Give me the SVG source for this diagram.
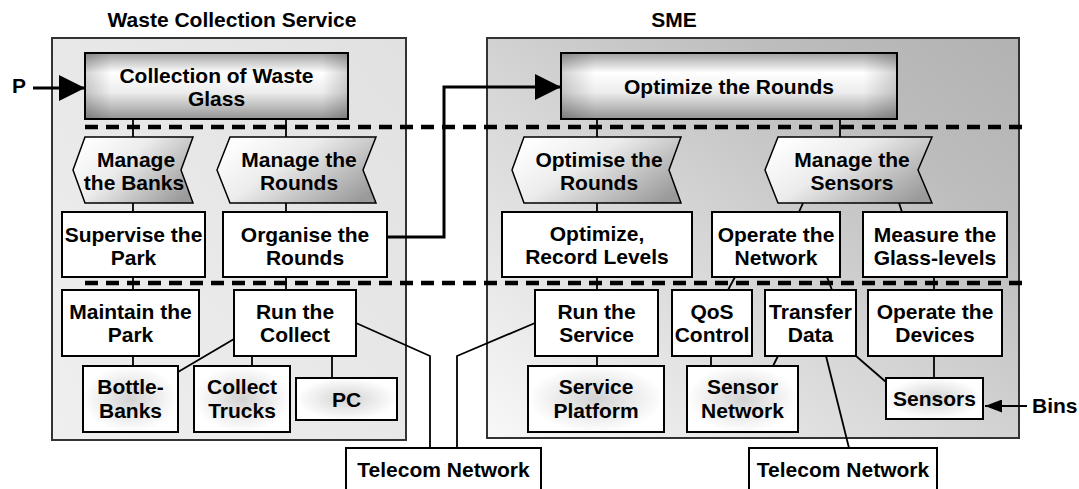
<svg xmlns="http://www.w3.org/2000/svg" width="1079" height="489" viewBox="0 0 1079 489">
<style>
  .t{font-family:"Liberation Sans",Arial,Helvetica,sans-serif;font-weight:bold;font-size:21px;text-anchor:middle;fill:#000}
  .tl{font-family:"Liberation Sans",Arial,Helvetica,sans-serif;font-weight:bold;font-size:21px;fill:#000}
  .box{fill:#fff;stroke:#000;stroke-width:2}
  .haze{fill:url(#gHaze);stroke:#000;stroke-width:2}
  .top{fill:url(#gTopV);stroke:#000;stroke-width:2}
  .topov{fill:url(#gTopH);stroke:none}
  .chev{fill:url(#gChev);stroke:#000;stroke-width:1.5;stroke-linejoin:miter}
  .panel{stroke:#333;stroke-width:2}
  .c{stroke:#000;stroke-width:1.8;fill:none}
  .cb{stroke:#000;stroke-width:3;fill:none}
  .dash{stroke:#000;stroke-width:4.5;stroke-dasharray:13 8;fill:none}
</style>
<defs>
  <linearGradient id="gLeftPanel" x1="0" y1="1" x2="1" y2="0">
    <stop offset="0" stop-color="#efefef"/>
    <stop offset="1" stop-color="#e1e1e1"/>
  </linearGradient>
  <linearGradient id="gRightPanel" x1="0" y1="1" x2="1" y2="0">
    <stop offset="0" stop-color="#f8f8f8"/>
    <stop offset="0.45" stop-color="#d6d6d6"/>
    <stop offset="0.75" stop-color="#bdbdbd"/>
    <stop offset="1" stop-color="#b2b2b2"/>
  </linearGradient>
  <linearGradient id="gTopV" x1="0" y1="0" x2="0" y2="1">
    <stop offset="0" stop-color="#a0a0a0"/>
    <stop offset="0.3" stop-color="#ffffff"/>
    <stop offset="0.6" stop-color="#ececec"/>
    <stop offset="1" stop-color="#949494"/>
  </linearGradient>
  <linearGradient id="gTopH" x1="0" y1="0" x2="1" y2="0">
    <stop offset="0" stop-color="#000" stop-opacity="0.18"/>
    <stop offset="0.1" stop-color="#000" stop-opacity="0"/>
    <stop offset="0.9" stop-color="#000" stop-opacity="0"/>
    <stop offset="1" stop-color="#000" stop-opacity="0.18"/>
  </linearGradient>
  <linearGradient id="gChev" x1="0" y1="0.2" x2="1" y2="0.8">
    <stop offset="0" stop-color="#ffffff"/>
    <stop offset="0.4" stop-color="#ececec"/>
    <stop offset="1" stop-color="#9a9a9a"/>
  </linearGradient>
  <radialGradient id="gHaze" cx="0.5" cy="0.5" r="0.5">
    <stop offset="0" stop-color="#d2d2d2"/>
    <stop offset="0.55" stop-color="#ebebeb"/>
    <stop offset="1" stop-color="#ffffff"/>
  </radialGradient>
  <marker id="mBig" viewBox="0 0 26 26" refX="26" refY="13" markerWidth="26" markerHeight="26" markerUnits="userSpaceOnUse" orient="auto">
    <path d="M0,0 L26,13 L0,26 z" fill="#000"/>
  </marker>
  <marker id="mSmall" viewBox="0 0 17 13" refX="17" refY="6.5" markerWidth="17" markerHeight="13" markerUnits="userSpaceOnUse" orient="auto">
    <path d="M0,0 L17,6.5 L0,13 z" fill="#000"/>
  </marker>
</defs>

<g id="panel-waste">
  <rect class="panel" x="52" y="38" width="354" height="402" fill="url(#gLeftPanel)"/>
  <text class="t" x="232" y="27">Waste Collection Service</text>
</g>
<g id="panel-sme">
  <rect class="panel" x="487" y="38" width="532" height="400" fill="url(#gRightPanel)"/>
  <text class="t" x="674" y="27">SME</text>
</g>

<g id="separators">
  <line class="dash" x1="85" y1="127" x2="1024" y2="127"/>
  <line class="dash" x1="85" y1="283" x2="1024" y2="283"/>
</g>

<g id="connectors">
  <line class="c" x1="133" y1="119" x2="133" y2="137"/>
  <line class="c" x1="286" y1="119" x2="286" y2="137"/>
  <line class="c" x1="133" y1="203" x2="133" y2="212"/>
  <line class="c" x1="286" y1="203" x2="286" y2="212"/>
  <line class="c" x1="133" y1="277" x2="133" y2="290"/>
  <line class="c" x1="286" y1="277" x2="286" y2="290"/>
  <line class="c" x1="133" y1="356" x2="133" y2="366"/>
  <line class="c" x1="252" y1="356" x2="252" y2="366"/>
  <line class="c" x1="332" y1="356" x2="332" y2="378"/>
  <line class="c" x1="234" y1="339" x2="178" y2="372"/>
  <polyline class="c" points="356,323 430,356 430,448"/>
  <line class="c" x1="597" y1="120" x2="597" y2="137"/>
  <line class="c" x1="840" y1="120" x2="840" y2="137"/>
  <line class="c" x1="597" y1="203" x2="597" y2="212"/>
  <line class="c" x1="803" y1="203" x2="799" y2="212"/>
  <line class="c" x1="899" y1="203" x2="902" y2="212"/>
  <line class="c" x1="597" y1="277" x2="597" y2="290"/>
  <line class="c" x1="735" y1="277" x2="728" y2="290"/>
  <line class="c" x1="827" y1="277" x2="832" y2="290"/>
  <line class="c" x1="934" y1="277" x2="934" y2="290"/>
  <line class="c" x1="597" y1="356" x2="597" y2="366"/>
  <line class="c" x1="711" y1="356" x2="711" y2="366"/>
  <line class="c" x1="778" y1="356" x2="773" y2="366"/>
  <line class="c" x1="826" y1="356" x2="849" y2="448"/>
  <line class="c" x1="856" y1="356" x2="886" y2="382"/>
  <line class="c" x1="934" y1="356" x2="934" y2="378"/>
  <polyline class="c" points="535,323 457,356 457,448"/>
  <polyline class="cb" points="387,237 444,237 444,87 561,87" marker-end="url(#mBig)"/>
  <line class="cb" x1="33" y1="88" x2="85" y2="88" marker-end="url(#mBig)"/>
  <line class="c" x1="1027" y1="406" x2="985" y2="406" stroke-width="2.5" marker-end="url(#mSmall)"/>
</g>

<g id="label-p"><text class="tl" x="12" y="93">P</text></g>
<g id="label-bins"><text class="tl" x="1032" y="413">Bins</text></g>

<g id="n-collection">
  <rect class="top" x="85" y="53" width="263" height="66"/>
  <rect class="topov" x="85" y="53" width="263" height="66"/>
  <text class="t" x="216.5" y="83">Collection of Waste</text>
  <text class="t" x="216.5" y="106">Glass</text>
</g>
<g id="n-optimize-rounds">
  <rect class="top" x="561" y="53" width="336" height="66"/>
  <rect class="topov" x="561" y="53" width="336" height="66"/>
  <text class="t" x="729" y="94">Optimize the Rounds</text>
</g>

<g id="n-manage-banks">
  <polygon class="chev" points="73,170 85,137 193,137 181,170 193,203 85,203"/>
  <text class="t" x="136" y="167">Manage</text>
  <text class="t" x="134" y="190">the Banks</text>
</g>
<g id="n-manage-rounds">
  <polygon class="chev" points="217,170 230,137 376,137 363,170 376,203 230,203"/>
  <text class="t" x="299" y="167">Manage the</text>
  <text class="t" x="299" y="190">Rounds</text>
</g>
<g id="n-optimise-rounds">
  <polygon class="chev" points="512,170 524,137 681,137 669,170 681,203 524,203"/>
  <text class="t" x="599" y="167">Optimise the</text>
  <text class="t" x="599" y="190">Rounds</text>
</g>
<g id="n-manage-sensors">
  <polygon class="chev" points="765,170 778,137 932,137 918,170 932,203 778,203"/>
  <text class="t" x="852" y="167">Manage the</text>
  <text class="t" x="852" y="190">Sensors</text>
</g>

<g id="n-supervise">
  <rect class="box" x="62" y="212" width="143" height="65"/>
  <text class="t" x="133.5" y="242">Supervise the</text>
  <text class="t" x="133.5" y="265">Park</text>
</g>
<g id="n-organise">
  <rect class="box" x="223" y="212" width="164" height="65"/>
  <text class="t" x="305" y="242">Organise the</text>
  <text class="t" x="305" y="265">Rounds</text>
</g>
<g id="n-record">
  <rect class="box" x="502" y="212" width="190" height="65"/>
  <text class="t" x="597" y="241">Optimize,</text>
  <text class="t" x="597" y="264">Record Levels</text>
</g>
<g id="n-operate-network">
  <rect class="box" x="712" y="212" width="128" height="65"/>
  <text class="t" x="776" y="242">Operate the</text>
  <text class="t" x="776" y="265">Network</text>
</g>
<g id="n-measure">
  <rect class="box" x="863" y="212" width="144" height="65"/>
  <text class="t" x="935" y="242">Measure the</text>
  <text class="t" x="935" y="265">Glass-levels</text>
</g>

<g id="n-maintain">
  <rect class="box" x="62" y="290" width="137" height="66"/>
  <text class="t" x="130.5" y="319">Maintain the</text>
  <text class="t" x="130.5" y="342">Park</text>
</g>
<g id="n-run-collect">
  <rect class="box" x="234" y="290" width="122" height="66"/>
  <text class="t" x="295" y="319">Run the</text>
  <text class="t" x="295" y="342">Collect</text>
</g>
<g id="n-run-service">
  <rect class="box" x="535" y="290" width="123" height="66"/>
  <text class="t" x="596.5" y="319">Run the</text>
  <text class="t" x="596.5" y="342">Service</text>
</g>
<g id="n-qos">
  <rect class="box" x="672" y="290" width="80" height="66"/>
  <text class="t" x="712" y="319">QoS</text>
  <text class="t" x="712" y="342">Control</text>
</g>
<g id="n-transfer">
  <rect class="box" x="765" y="290" width="91" height="66"/>
  <text class="t" x="810.5" y="319">Transfer</text>
  <text class="t" x="810.5" y="342">Data</text>
</g>
<g id="n-operate-devices">
  <rect class="box" x="868" y="290" width="134" height="66"/>
  <text class="t" x="935" y="319">Operate the</text>
  <text class="t" x="935" y="342">Devices</text>
</g>

<g id="n-bottle-banks">
  <rect class="haze" x="83" y="366" width="95" height="66"/>
  <text class="t" x="130.5" y="394">Bottle-</text>
  <text class="t" x="130.5" y="418">Banks</text>
</g>
<g id="n-collect-trucks">
  <rect class="haze" x="194" y="366" width="96" height="66"/>
  <text class="t" x="242" y="394">Collect</text>
  <text class="t" x="242" y="418">Trucks</text>
</g>
<g id="n-pc">
  <rect class="haze" x="296" y="378" width="101" height="42"/>
  <text class="t" x="346.5" y="406.5">PC</text>
</g>
<g id="n-service-platform">
  <rect class="haze" x="528" y="366" width="136" height="66"/>
  <text class="t" x="596" y="394">Service</text>
  <text class="t" x="596" y="418">Platform</text>
</g>
<g id="n-sensor-network">
  <rect class="haze" x="687" y="366" width="111" height="66"/>
  <text class="t" x="742.5" y="394">Sensor</text>
  <text class="t" x="742.5" y="418">Network</text>
</g>
<g id="n-sensors">
  <rect class="haze" x="886" y="378" width="97" height="41"/>
  <text class="t" x="934.5" y="406">Sensors</text>
</g>

<g id="n-telecom-1">
  <rect class="box" x="346" y="448" width="195" height="52"/>
  <text class="t" x="443.5" y="477">Telecom Network</text>
</g>
<g id="n-telecom-2">
  <rect class="box" x="749" y="448" width="188" height="52"/>
  <text class="t" x="843" y="477">Telecom Network</text>
</g>
</svg>
